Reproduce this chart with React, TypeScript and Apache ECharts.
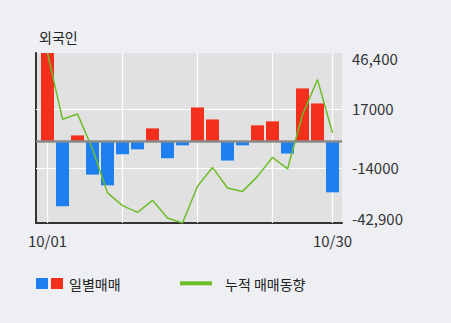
import React, { useEffect, useRef } from "react";
import * as echarts from "echarts";

const dates = ["10/01", "10/02", "10/04", "10/07", "10/08", "10/10", "10/11", "10/14", "10/15", "10/16", "10/17", "10/18", "10/21", "10/22", "10/23", "10/24", "10/25", "10/28", "10/29", "10/30"];
const dailyNet = [46400, -34100, 3100, -17500, -23100, -6800, -4200, 6800, -8900, -2100, 17800, 11500, -10100, -2100, 8400, 10500, -6400, 27800, 19900, -26800];
const cumulative = [46400, 11600, 14400, -4000, -27100, -33800, -37300, -31000, -40300, -42900, -23600, -13700, -24500, -26300, -18400, -8400, -14500, 14000, 32400, 4400];
const yTickValues = [-42900, -14000, 17000, 46400];
const yTickLabels = ["-42,900", "-14000", "17000", "46,400"];
const xLabelIndex = [0, 19];
const xGridIndex = [0, 5, 10, 15, 19];
const yGridValues = [17000, -14000];
const title = "외국인";
const legendBar = "일별매매";
const legendLine = "누적 매매동향";

const RED = "#f4301c";
const BLUE = "#1e80f0";
const GREEN = "#6cbe28";
const FONT = "'Noto Sans CJK KR', sans-serif";

export default function App() {
  const ref = useRef<HTMLDivElement>(null);
  useEffect(() => {
    if (!ref.current) return;
    const chart = echarts.init(ref.current, null, { renderer: "svg" });
    const yMin = Math.min(...yTickValues);
    const yMax = Math.max(...yTickValues);
    chart.setOption({
      animation: false,
      backgroundColor: "#edeff3",
      textStyle: { fontFamily: FONT },
      title: {
        text: title,
        left: 34,
        top: 25,
        textStyle: { fontSize: 14, fontWeight: "normal", color: "#222", fontFamily: FONT },
      },
      grid: {
        left: 36,
        right: 109,
        top: 53,
        bottom: 100,
        show: true,
        backgroundColor: "#e1e1e1",
        borderWidth: 0,
      },
      xAxis: {
        type: "value",
        min: -0.767,
        max: 19.633,
        axisLine: { show: true, onZero: false, lineStyle: { color: "#333", width: 2 } },
        axisTick: { show: false },
        splitLine: { show: false },
        axisLabel: {
          customValues: xLabelIndex,
          formatter: (v: number) => dates[Math.round(v)],
          fontSize: 15,
          color: "#333",
          margin: 10,
          fontFamily: FONT,
        },
      },
      yAxis: [
        {
          type: "value",
          position: "right",
          min: yMin,
          max: yMax,
          axisLine: { show: false },
          axisTick: { show: false },
          splitLine: { show: false },
          axisLabel: {
            customValues: yTickValues,
            formatter: (v: number) => yTickLabels[yTickValues.indexOf(v)] ?? String(v),
            fontSize: 15,
            lineHeight: 10,
            color: "#333",
            margin: 10,
            fontFamily: FONT,
            verticalAlignMaxLabel: "top",
            verticalAlignMinLabel: "bottom",
          },
        },
        {
          type: "value",
          position: "left",
          min: yMin,
          max: yMax,
          axisLine: { show: true, lineStyle: { color: "#333", width: 2 } },
          axisTick: { show: false },
          axisLabel: { show: false },
          splitLine: { show: false },
        },
      ],
      series: [
        {
          type: "bar",
          z: 2,
          barWidth: 13,
          data: dailyNet.map((v, i) => ({
            value: [i, v],
            itemStyle: { color: v >= 0 ? RED : BLUE },
          })),
          markLine: {
            silent: true,
            symbol: "none",
            z: 5,
            label: { show: false },
            lineStyle: { color: "#8a8a8a", width: 2.5, type: "solid" },
            data: [{ yAxis: 0 }],
          },
        },
        {
          type: "line",
          z: 3,
          data: cumulative.map((v, i) => [i, v]),
          showSymbol: false,
          symbol: "none",
          lineStyle: { color: GREEN, width: 1.5 },
          itemStyle: { color: GREEN },
          markLine: {
            silent: true,
            symbol: "none",
            z: 1,
            label: { show: false },
            lineStyle: { color: "#ffffff", width: 1.2, type: "solid" },
            data: [
              ...xGridIndex.map((x) => ({ xAxis: x })),
              ...yGridValues.map((y) => ({ yAxis: y })),
            ],
          },
        },
      ],
      graphic: [
        { type: "rect", shape: { x: 36, y: 278, width: 12, height: 11 }, style: { fill: BLUE } },
        { type: "rect", shape: { x: 51, y: 278, width: 12, height: 11 }, style: { fill: RED } },
        {
          type: "text",
          x: 69,
          y: 283.5,
          style: { text: legendBar, fontSize: 14, fill: "#222", fontFamily: FONT, verticalAlign: "middle" },
        },
        { type: "rect", shape: { x: 180, y: 281.3, width: 32, height: 4 }, style: { fill: GREEN } },
        {
          type: "text",
          x: 225,
          y: 283.5,
          style: { text: legendLine, fontSize: 14, fill: "#222", fontFamily: FONT, verticalAlign: "middle" },
        },
      ],
    });
    return () => chart.dispose();
  }, []);
  return (
    <div
      ref={ref}
      style={{ position: "fixed", left: 0, top: 0, width: 451, height: 323 }}
    />
  );
}
